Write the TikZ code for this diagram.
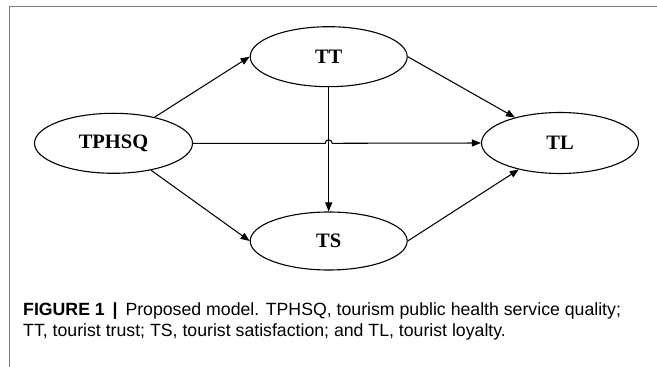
\documentclass[tikz,border=0pt]{standalone}
\usepackage{fontspec}
\setmainfont{Liberation Serif}
\newfontfamily\capfont{Liberation Sans}
\usetikzlibrary{shapes.geometric,arrows.meta}
\tikzset{
  var/.style={ellipse, draw, line width=1.1pt, inner sep=0pt, minimum width=157pt, minimum height=60pt, font=\fontsize{20.5}{24}\selectfont\bfseries},
  arr/.style={line width=1.05pt, -{Triangle[length=9pt,width=7pt]}},
  frame/.style={draw=black!50, line width=1pt},
  captxt/.style={anchor=base west, inner sep=0pt, font=\capfont\fontsize{17.7}{21}\selectfont}
}
\begin{document}
\begin{tikzpicture}[x=1pt,y=1pt]
\useasboundingbox (0,0) rectangle (657,367);
\coordinate (fb) at (9,0);
\coordinate (fc) at (9,360);
\coordinate (fr) at (657,360);
\draw[frame] (fb) -- (fc) -- (fr);
\node[var, minimum width=158pt] (TPHSQ) at (113.5,223.7) {TPHSQ};
\node[var] (TT) at (328.7,310.3) {TT};
\node[var, minimum height=58pt] (TS) at (328.7,126) {TS};
\node[var, minimum height=61pt] (TL) at (560,224) {TL};
\draw[arr] (TPHSQ) -- (TT.west);
\draw[arr] (TPHSQ) -- (TS.west);
\draw[arr] (TT.east) -- (TL);
\draw[arr] (TS.east) -- (TL);
\draw[arr] (TT.south) -- (TS.north);
\coordinate (hopL) at ([xshift=-3.5pt]TT.south |- TPHSQ.east);
\draw[arr] (TPHSQ.east) -- (hopL) arc[start angle=180, end angle=0, radius=3.5pt] -- (TL.west);
\node[captxt] (cap1) at (23,51) {\textbf{FIGURE 1 \,|}\, Proposed model. TPHSQ, tourism public health service quality;};
\node[captxt] (cap2) at (23,30) {TT, tourist trust; TS, tourist satisfaction; and TL, tourist loyalty.};
\end{tikzpicture}
\end{document}
